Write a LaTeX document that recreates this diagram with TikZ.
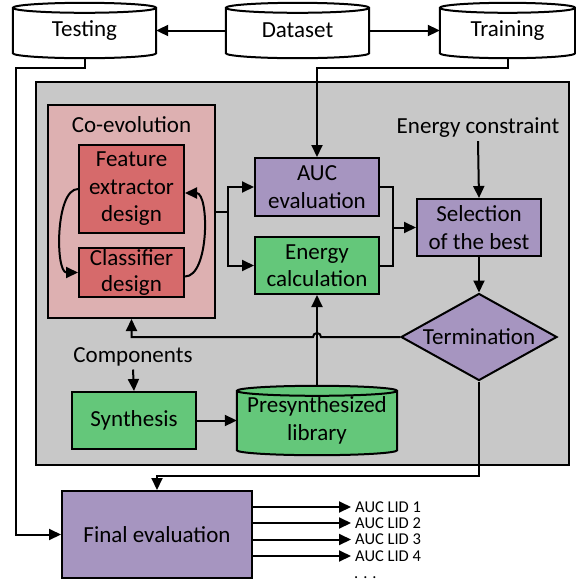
\documentclass[tikz,border=0pt]{standalone}
\usepackage{fontspec}
\setmainfont{Carlito}
\usetikzlibrary{arrows.meta,shapes.geometric,calc}
\pgfdeclarelayer{back}
\pgfdeclarelayer{bg}
\pgfsetlayers{back,bg,main}
\definecolor{bggray}{HTML}{C8C8C8}
\definecolor{pinkbox}{HTML}{DDB0B1}
\definecolor{redbox}{HTML}{D66A6B}
\definecolor{purplebox}{HTML}{A695C0}
\definecolor{greenbox}{HTML}{64C77A}
\newcommand\mycyl[3]{%
\begin{pgfonlayer}{bg}
\draw[line width=2pt,fill=#3] let \p1=(#1.north west),\p2=(#1.south east),\n1={(\x2-\x1)/2} in
 (\x1,\y1-#2) -- (\x1,\y2+#2) arc[start angle=180,end angle=360,x radius=\n1,y radius=#2]
 -- (\x2,\y1-#2) arc[start angle=0,end angle=180,x radius=\n1,y radius=#2] -- cycle
 (\x1,\y1-#2) arc[start angle=180,end angle=360,x radius=\n1,y radius=#2];
\end{pgfonlayer}}
\begin{document}
\begin{tikzpicture}[x=1pt,y=1pt,
  every node/.style={font=\fontsize{23}{27.5}\selectfont, inner sep=0pt},
  box/.style={draw,line width=2pt,align=center},
  small/.style={font=\fontsize{16.5}{17}\selectfont},
  line/.style={line width=2pt},
  arr/.style={line width=2pt,-{Triangle[length=12pt,width=11pt]}}]
\useasboundingbox (0,0) rectangle (576,-582);
\begin{pgfonlayer}{back}
\node[draw,line width=2pt,fill=bggray,minimum width=533pt,minimum height=383pt] (frame) at (302.5,-273.5) {};
\end{pgfonlayer}
% cylinders
\node[minimum width=143pt,minimum height=55pt] (test) at (84.5,-30.5) {Testing};
\mycyl{test}{5pt}{white}
\node[minimum width=143pt,minimum height=55pt] (data) at (297.5,-30.5) {Dataset};
\mycyl{data}{5pt}{white}
\node[minimum width=135pt,minimum height=55pt] (train) at (507.5,-30.5) {Training};
\mycyl{train}{5pt}{white}
% co-evolution
\node[box,fill=pinkbox,minimum width=167pt,minimum height=213pt] (coevo) at (131.5,-211.5) {};
\node (coevotxt) at (131.5,-125) {Co-evolution};
\node[box,fill=redbox,minimum width=105pt,minimum height=88pt] (feat) at (131.5,-189) {Feature\\extractor\\design};
\node[box,fill=redbox,minimum width=105pt,minimum height=49pt,font=\fontsize{23}{26.5}\selectfont] (clas) at (131.5,-272.5) {Classifier\\design};
\node[box,fill=purplebox,minimum width=124pt,minimum height=58pt] (auc) at (317,-187) {AUC\\evaluation};
\node[box,fill=greenbox,minimum width=124pt,minimum height=57pt] (energy) at (317,-265.5) {Energy\\calculation};
\node[box,fill=purplebox,minimum width=124pt,minimum height=57pt] (sel) at (479,-227.5) {Selection\\of the best};
\node[draw,line width=2pt,fill=purplebox,shape=diamond,aspect=1.8,minimum width=156pt,minimum height=87pt] (term) at (479,-337) {Termination};
\node (econ) at (478,-128) {Energy constraint};
\node (comp) at (133,-357) {Components};
\node[box,fill=greenbox,minimum width=124pt,minimum height=57pt] (synth) at (134,-420.5) {Synthesis};
\node[align=center,minimum width=160pt,minimum height=69pt] (lib) at (317,-420.5) {Presynthesized\\library};
\mycyl{lib}{5pt}{greenbox}
\node[box,fill=purplebox,minimum width=190pt,minimum height=87pt] (final) at (157,-534.5) {Final evaluation};
\node[small,anchor=west] (o1) at (355,-507) {AUC LID 1};
\node[small,anchor=west] (o2) at (355,-523) {AUC LID 2};
\node[small,anchor=west] (o3) at (355,-539.5) {AUC LID 3};
\node[small,anchor=west] (o4) at (355,-556) {AUC LID 4};
\node[small,anchor=base west] (dots) at (354,-578) {. . .};
% connectors
\draw[arr] (data.west) -- (test.east);
\draw[arr] (data.east) -- (train.west);
\draw[arr] (test.south) -- ++(0,-10) -| ([xshift=-45pt]final.west) -- (final.west);
\draw[arr] (train.south) -- ++(0,-10) -| (auc.north);
\draw[line] (coevo.east) -- ++(12,0) coordinate (split);
\draw[arr] (split) |- (auc.west);
\draw[arr] (split) |- (energy.west);
\draw[line] (auc.east) -- ++(13,0) coordinate (join) |- (energy.east);
\draw[arr] (join |- sel.west) -- (sel.west);
\draw[arr] ([yshift=-3pt]econ.south) -- (sel.north);
\draw[arr] (sel.south) -- (term.north);
\draw[arr] (term.west) -- ([xshift=4pt]term.west -| lib.north) arc[start angle=0,end angle=180,radius=4pt] -- (term.west -| coevo.south) -- (coevo.south);
\draw[arr] (lib.north) -- (energy.south);
\draw[arr] ([yshift=-3pt]comp.south) -- (synth.north);
\draw[arr] (synth.east) -- (lib.west);
\draw[arr] (term.south) -- ++(0,-94) -| (final.north);
\draw[arr] (feat.west) to[out=180,in=180,looseness=0.7] (clas.west);
\draw[arr] ([yshift=-4pt]clas.east) to[out=0,in=0,looseness=0.75] ([yshift=-4pt]feat.east);
\foreach \o in {o1,o2,o3,o4}
  \draw[arr] (final.east |- \o.west) -- ([xshift=-4pt]\o.west);
\end{tikzpicture}
\end{document}
